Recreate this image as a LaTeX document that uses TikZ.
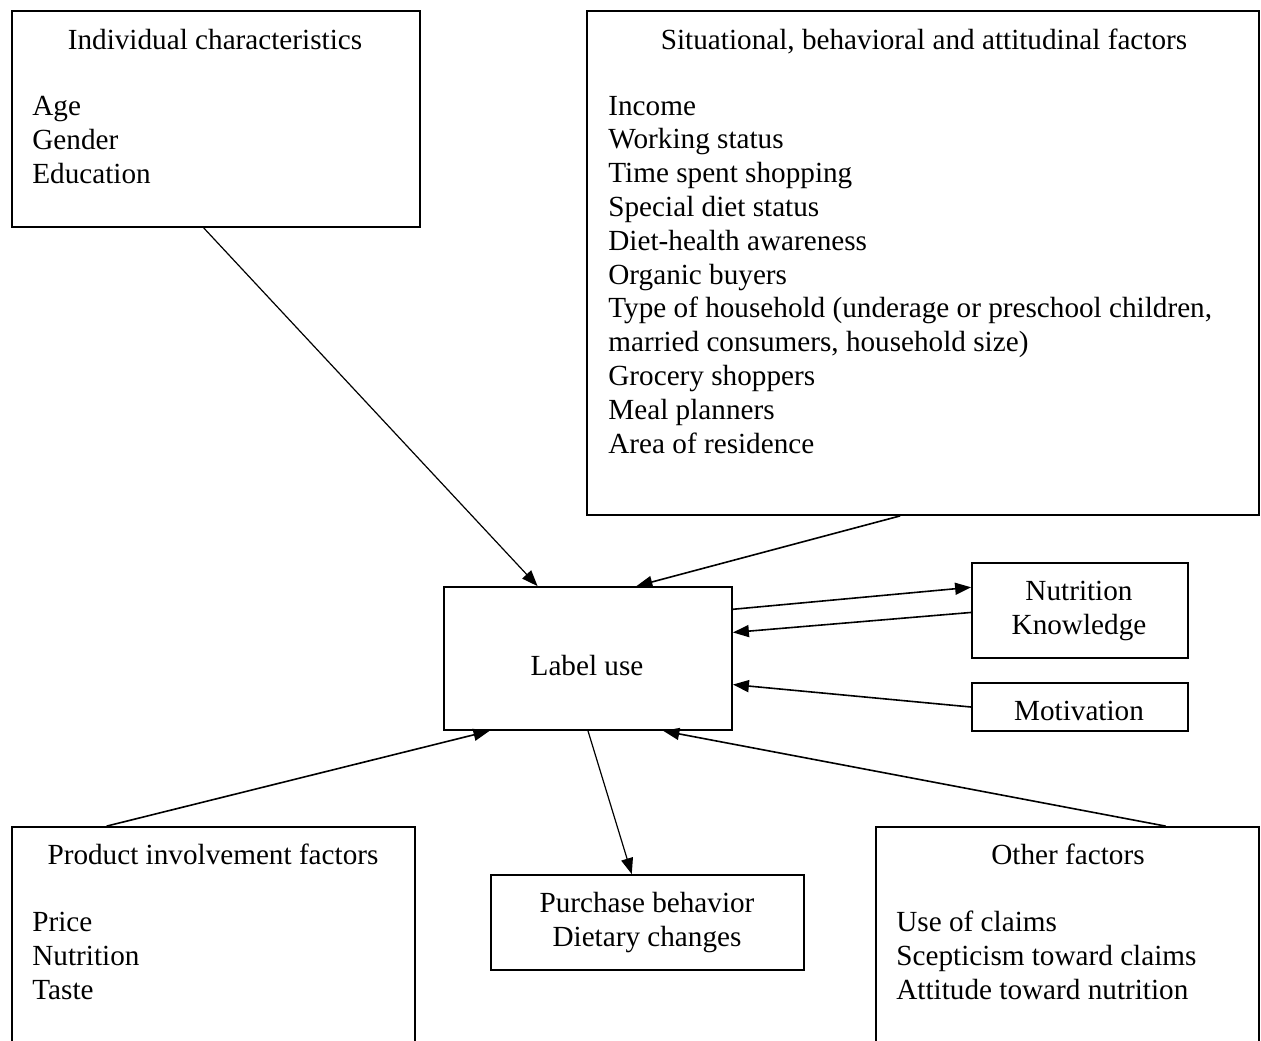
\documentclass[tikz,border=0pt]{standalone}
\usepackage{fontspec}
\setmainfont{Liberation Serif}
\usetikzlibrary{arrows.meta,calc}
\tikzset{
  box/.style={draw, line width=0.9pt, inner sep=0pt},
  txt/.style={inner sep=0pt, font=\fontsize{14.6}{16.9}\selectfont},
  lst/.style={txt, align=left, anchor=base west},
  arr/.style={-{Triangle[length=8pt,width=6pt]}, line width=0.8pt},
}
\begin{document}
\begin{tikzpicture}[x=0.5pt, y=-0.5pt]
\useasboundingbox (0,0) rectangle (1261,1040);
\clip (0,0) rectangle (1261,1040);
% Boxes
\node[box, minimum width=204pt, minimum height=108pt] (indiv) at (216,119) {};
\node[box, minimum width=336pt, minimum height=252pt] (situ) at (923,263) {};
\node[box, minimum width=144pt, minimum height=71.5pt] (label) at (588,658.5) {};
\node[box, minimum width=108pt, minimum height=47.5pt] (know) at (1080,610.5) {};
\node[box, minimum width=108pt, minimum height=24pt] (motiv) at (1080,707) {};
\node[box, minimum width=201.5pt, minimum height=136.5pt] (prod) at (213.5,963.5) {};
\node[box, minimum width=156.5pt, minimum height=47.5pt] (purch) at (647.5,922.5) {};
\node[box, minimum width=191.5pt, minimum height=136.5pt] (other) at (1067.5,963.5) {};
% Texts (multi-line nodes sit on their last baseline)
\node[txt, anchor=base] (indivtitle) at (215,49) {Individual characteristics};
\node[lst] (indivlist) at (32,183) {Age\\Gender\\Education};
\node[txt, anchor=base] (situtitle) at (924,49) {Situational, behavioral and attitudinal factors};
\node[lst] (situlist) at (608,453) {Income\\Working status\\Time spent shopping\\Special diet status\\Diet-health awareness\\Organic buyers\\Type of household (underage or preschool children,\\married consumers, household size)\\Grocery shoppers\\Meal planners\\Area of residence};
\node[txt, anchor=base] (labeltext) at (587,675) {Label use};
\node[txt, anchor=base, align=center] (knowtext) at (1079,634) {Nutrition\\Knowledge};
\node[txt, anchor=base] (motivtext) at (1079,720) {Motivation};
\node[txt, anchor=base] (prodtitle) at (213,864) {Product involvement factors};
\node[lst] (prodlist) at (32,999) {Price\\Nutrition\\Taste};
\node[txt, anchor=base, align=center] (purchtext) at (647,946) {Purchase behavior\\Dietary changes};
\node[txt, anchor=base] (othertitle) at (1068,864) {Other factors};
\node[lst] (otherlist) at (896,999) {Use of claims\\Scepticism toward claims\\Attitude toward nutrition};
% Arrows into label use
\draw[arr, line width=0.6pt] ($(indiv.south west)!0.47!(indiv.south east)$) -- ($(label.north west)!0.326!(label.north east)$);
\draw[arr] ($(situ.south west)!0.466!(situ.south east)$) -- ($(label.north west)!0.667!(label.north east)$);
\draw[arr] ($(label.north east)!0.16!(label.south east)$) -- ($(know.north west)!0.26!(know.south west)$);
\draw[arr] ($(know.north west)!0.52!(know.south west)$) -- ($(label.north east)!0.32!(label.south east)$);
\draw[arr] (motiv.west) -- ($(label.north east)!0.68!(label.south east)$);
\draw[arr] ($(prod.north west)!0.236!(prod.north east)$) -- ($(label.south west)!0.16!(label.south east)$);
\draw[arr, line width=0.6pt] (label.south) -- ($(purch.north west)!0.45!(purch.north east)$);
\draw[arr] ($(other.north west)!0.755!(other.north east)$) -- ($(label.south west)!0.76!(label.south east)$);
\end{tikzpicture}
\end{document}
